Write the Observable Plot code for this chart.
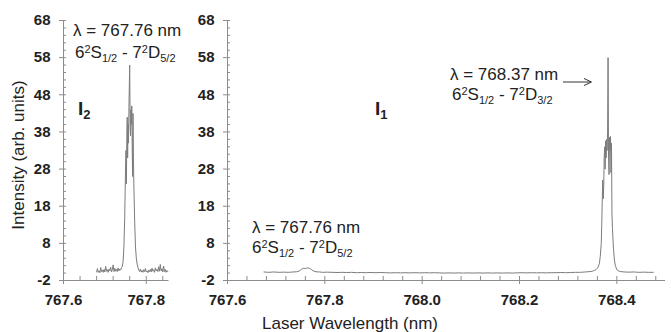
<!DOCTYPE html>
<html><head><meta charset="utf-8">
<script src="https://cdn.jsdelivr.net/npm/d3@7"></script>
<script src="https://cdn.jsdelivr.net/npm/@observablehq/plot@0.6"></script>
<style>
html,body{margin:0;padding:0;background:#fff;}
#chart{position:relative;width:671px;height:332px;overflow:hidden;font-family:"Liberation Sans",Arial,sans-serif;}
#chart svg{position:absolute;top:0;}
</style></head><body><div id="chart"></div>
<script>
// ---- I2 panel (left) ----
const i2Wavelength = [
767.680,767.682,767.684,767.686,767.688,767.690,767.692,767.694,767.696,767.698,
767.700,767.702,767.704,767.706,767.708,767.710,767.712,767.714,767.716,767.718,
767.720,767.722,767.724,767.726,767.728,767.730,767.732,767.734,767.736,767.738,
767.740,767.742,767.744,767.746,767.748,767.749,767.750,767.751,767.752,767.753,
767.754,767.755,767.756,767.757,767.758,767.759,767.760,767.761,767.762,767.763,
767.764,767.765,767.766,767.767,767.768,767.769,767.770,767.772,767.774,767.776,
767.778,767.780,767.782,767.784,767.786,767.788,767.790,767.792,767.794,767.796,
767.798,767.800,767.802,767.804,767.806,767.808,767.810,767.812,767.814,767.816,
767.818,767.820,767.822,767.824,767.826,767.828,767.830,767.832,767.834,767.836,
767.838,767.840,767.842,767.844,767.846,767.848,767.850,767.852];
const i2Intensity = [
0.3,1.2,0.2,0.6,0.1,1.5,0.4,0.8,0.2,1.0,
0.3,1.8,0.5,0.9,0.2,1.1,0.6,1.6,0.3,0.9,
2.2,0.4,1.3,0.5,1.0,0.4,1.4,0.6,1.1,0.8,
1.4,1.8,3.0,7.0,15,22,28,33,24,36,
42,31,40,35,43,50,56,40,37,44,
40,45,35,26,43,31,24,14,7,4,
2.4,1.5,0.8,0.4,1.1,0.3,0.7,0.2,0.9,0.4,
1.2,0.3,0.6,0.1,0.8,0.4,1.0,0.3,1.3,0.5,
0.9,0.2,1.4,0.6,1.0,0.4,1.7,0.5,2.3,0.6,
1.2,0.3,1.9,0.4,1.0,0.2,0.7,0.4];

// ---- I1 panel (right) ----
const i1Wavelength = [
767.675,767.685,767.695,767.705,767.715,767.725,767.735,767.742,767.748,767.752,
767.756,767.760,767.764,767.768,767.772,767.776,767.782,767.789,767.795,767.805,
767.815,767.825,767.835,767.845,767.855,767.865,767.875,767.885,767.895,767.905,
767.915,767.925,767.935,767.945,767.955,767.965,767.975,767.985,767.995,768.005,
768.015,768.025,768.035,768.045,768.055,768.065,768.075,768.085,768.095,768.105,
768.115,768.125,768.135,768.145,768.155,768.165,768.175,768.185,768.195,768.205,
768.215,768.225,768.235,768.245,768.255,768.265,768.275,768.285,768.295,768.305,
768.315,768.325,768.335,768.345,768.350,768.354,768.358,768.361,768.364,768.366,
768.368,768.369,768.370,768.371,768.372,768.373,768.374,768.375,768.376,768.377,
768.378,768.379,768.380,768.381,768.382,768.383,768.384,768.385,768.386,768.387,
768.388,768.389,768.390,768.391,768.393,768.395,768.397,768.400,768.403,768.408,
768.415,768.425,768.435,768.445,768.455,768.465,768.475];
const i1Intensity = [
0.3,0.2,0.3,0.2,0.25,0.2,0.3,0.35,0.6,1.0,
1.3,1.2,1.4,1.3,1.0,0.6,0.35,0.3,0.2,0.25,
0.2,0.15,0.2,0.15,0.2,0.1,0.15,0.1,0.15,0.1,
0.15,0.1,0.05,0.1,0.05,0.1,0.05,0.1,0.05,0.1,
0.05,0.1,0.05,0.0,0.05,0.0,0.05,0.0,0.05,0.0,
0.05,0.0,0.05,0.0,0.05,0.0,0.05,0.0,0.05,0.1,
0.05,0.1,0.05,0.1,0.05,0.1,0.1,0.15,0.1,0.15,
0.2,0.2,0.3,0.4,0.5,0.7,1.0,1.5,2.5,4.5,
8,13,19,25,20,23,31,34,28,35.6,
31,36,33,38,58,31,26.5,36.5,33,36.8,
27,35,16,12,6.7,3.5,2.0,0.9,0.6,0.4,
0.3,0.25,0.3,0.2,0.25,0.2,0.2];

// ---- axes ----
const yTickValues = [-2, 8, 18, 28, 38, 48, 58, 68];
const yMinorTicks = [0,2,4,6,10,12,14,16,20,22,24,26,30,32,34,36,40,42,44,46,50,52,54,56,60,62,64,66];
const leftXTicks = [767.6, 767.8];
const leftXMinor = [767.64, 767.68, 767.72, 767.76, 767.84];
const rightXTicks = [767.6, 767.8, 768.0, 768.2, 768.4];
const rightXMinor = [767.64,767.68,767.72,767.76,767.84,767.88,767.92,767.96,768.04,768.08,768.12,768.16,768.24,768.28,768.32,768.36,768.44,768.48];

const axisColor = "#8c8c8c";
const textColor = "#222";
const lineColor = "#7c7c7c";
const fontFamily = "'Liberation Sans', Arial, sans-serif";

function panel({width, marginLeft, marginRight, xDomain, xTicks, xMinor, wl, inten}) {
  const data = wl.map((w, i) => ({w, v: inten[i]}));
  const x0 = xDomain[0];
  return Plot.plot({
    width, height: 332,
    marginLeft, marginRight, marginTop: 20, marginBottom: 52,
    x: {domain: xDomain},
    y: {domain: [-2, 68]},
    style: {fontFamily, background: "white", overflow: "visible"},
    marks: [
      Plot.ruleY([-2], {stroke: axisColor}),
      Plot.ruleX([x0], {stroke: axisColor}),
      Plot.ruleX(xTicks, {y1: -2, y2: -2, insetTop: -4, insetBottom: -4, stroke: axisColor}),
      Plot.ruleX(xMinor, {y1: -2, y2: -2, insetTop: -4, insetBottom: 0, stroke: axisColor}),
      Plot.ruleY(yTickValues, {x1: x0, x2: x0, insetLeft: -4, insetRight: -3, stroke: axisColor}),
      Plot.ruleY(yMinorTicks, {x1: x0, x2: x0, insetLeft: 0, insetRight: -3, stroke: axisColor}),
      Plot.axisX(xTicks, {tickSize: 0, tickPadding: 14, tickFormat: d => d.toFixed(1), fontSize: 15, fontWeight: "bold", fill: textColor, label: null}),
      Plot.axisY(yTickValues, {tickSize: 0, tickPadding: 13, tickFormat: d => String(d), fontSize: 15, fontWeight: "bold", fill: textColor, label: null}),
      Plot.line(data, {x: "w", y: "v", stroke: lineColor, strokeWidth: 1})
    ]
  });
}

const chart = document.getElementById("chart");
const left = panel({width: 185, marginLeft: 63, marginRight: 16.5, xDomain: [767.6, 767.855], xTicks: leftXTicks, xMinor: leftXMinor, wl: i2Wavelength, inten: i2Intensity});
left.style.left = "0px";
const right = panel({width: 486, marginLeft: 42, marginRight: 6, xDomain: [767.6, 768.5], xTicks: rightXTicks, xMinor: rightXMinor, wl: i1Wavelength, inten: i1Intensity});
right.style.left = "185px";
chart.appendChild(left);
chart.appendChild(right);

function rich(svg, x, y, parts, size) {
  const t = d3.select(svg).append("text").attr("x", x).attr("y", y)
    .attr("text-anchor", "start")
    .attr("font-size", size).attr("fill", textColor).attr("font-family", fontFamily);
  let off = 0;
  for (const p of parts) {
    let target = 0, fs = size;
    if (p.sup) { target = -Math.round(size * 0.32); fs = Math.round(size * 0.64); }
    if (p.sub) { target = Math.round(size * 0.22); fs = Math.round(size * 0.66); }
    const ts = t.append("tspan").attr("dy", target - off).attr("font-size", fs).text(p.t);
    if (p.fw) ts.attr("font-weight", p.fw);
    off = target;
  }
  return t;
}
function transition(svg, x, y, sub) {
  rich(svg, x, y, [{t: "6"}, {t: "2", sup: true}, {t: "S"}, {t: "1/2", sub: true}, {t: " - 7"}, {t: "2", sup: true}, {t: "D"}, {t: sub, sub: true}], 17);
}
// left annotations
rich(left, 73, 36, [{t: "λ = 767.76 nm"}], 17);
transition(left, 75, 58, "5/2");
rich(left, 78, 115, [{t: "I", fw: "bold"}, {t: "2", sub: true, fw: "bold"}], 19);
// y axis title
d3.select(left).append("text").attr("transform", "translate(18,155) rotate(-90)")
  .attr("text-anchor", "middle").attr("dy", "0.35em").attr("font-size", 17)
  .attr("fill", textColor).attr("font-family", fontFamily).text("Intensity (arb. units)");
// right annotations
rich(right, 265, 79.5, [{t: "λ = 768.37 nm"}], 17);
transition(right, 267, 99.5, "3/2");
d3.select(right).append("path").attr("d", "M378,82H406M399,78.5L406.5,82L399,85.5")
  .attr("fill", "none").attr("stroke", "#333").attr("stroke-width", 1);
rich(right, 67, 232.5, [{t: "λ = 767.76 nm"}], 17);
transition(right, 67, 252.5, "5/2");
rich(right, 190, 115, [{t: "I", fw: "bold"}, {t: "1", sub: true, fw: "bold"}], 19);
// x axis title
d3.select(right).append("text").attr("x", 165).attr("y", 329).attr("text-anchor", "middle")
  .attr("font-size", 17).attr("fill", textColor).attr("font-family", fontFamily).text("Laser Wavelength (nm)");
</script></body></html>
